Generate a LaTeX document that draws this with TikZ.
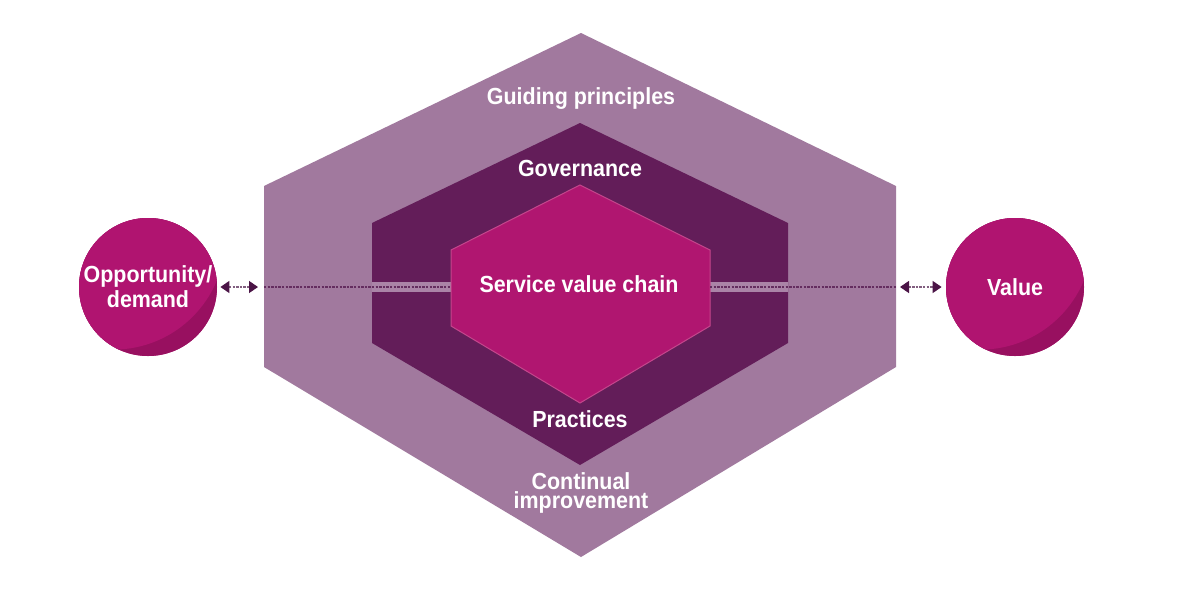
\documentclass[tikz,border=0pt]{standalone}
\usepackage{fontspec}
\newfontfamily\labfont[FakeStretch=0.92]{Liberation Sans}
\usetikzlibrary{arrows.meta}
\definecolor{outerc}{RGB}{161,121,158}
\definecolor{govc}{RGB}{99,29,89}
\definecolor{bandc}{RGB}{170,132,167}
\definecolor{svcc}{RGB}{176,22,112}
\definecolor{svcedge}{RGB}{196,70,140}
\definecolor{circc}{RGB}{176,20,112}
\definecolor{circdark}{RGB}{152,16,96}
\definecolor{chainc}{RGB}{100,45,95}
\definecolor{linkc}{RGB}{130,95,128}
\definecolor{tipc}{RGB}{75,20,70}
\begin{document}
\begin{tikzpicture}[x=0.5pt,y=-0.5pt,
  lab/.style={text=white, inner sep=0pt, align=center,
    font=\labfont\bfseries\fontsize{11.65}{9.6}\selectfont},
  ball/.style={circle, minimum size=69pt, inner sep=0pt, fill=circc,
    text=white, align=center,
    font=\labfont\bfseries\fontsize{11.65}{12.5}\selectfont,
    path picture={
      \fill[circdark] (path picture bounding box.center) circle[radius=40pt];
      \fill[circc] ([shift={(-17.3pt,24.7pt)}]path picture bounding box.center) circle[radius=56pt];
    }},
  chain/.style={draw=chainc, line width=0.7pt, dash pattern=on 1.2pt off 0.6pt},
  link/.style={draw=linkc, line width=0.7pt, dash pattern=on 1.2pt off 0.6pt,
    {Triangle[length=4.5pt,width=6pt,color=tipc]}-{Triangle[length=4.5pt,width=6pt,color=tipc]}}
]
\useasboundingbox (0,0) rectangle (1200,590);
\fill[white] (0,0) rectangle (1200,590);

% hexagon layers
\fill[outerc] (581,33) -- (896,186) -- (896,367) -- (581,557) -- (264,367) -- (264,186) -- cycle;
\fill[govc] (580,123) -- (788,223) -- (788,343) -- (580,465) -- (372,343) -- (372,223) -- cycle;
\fill[bandc] (372,281.5) rectangle (788,292);
\filldraw[fill=svcc, draw=svcedge, line width=0.5pt] (580,185) -- (710,250) -- (710,326) -- (580,403) -- (451,326) -- (451,250) -- cycle;

\coordinate (hexL) at (264,287);
\coordinate (hexR) at (896,287);
\coordinate (svcL) at (451,287);
\coordinate (svcR) at (710,287);

% outside circles
\node[ball] (opp) at (148,287) {Opportunity/\\demand};
\node[ball] (val) at (1015,287) {Value};

% connectors
\draw[chain] (hexL) -- (svcL);
\draw[chain] (svcR) -- (hexR);
\draw[link, shorten <=1.5pt, shorten >=3pt] (opp.east) -- (hexL);
\draw[link, shorten <=2pt, shorten >=2pt] (hexR) -- (val.west);

% labels
\node[lab, anchor=base] (gp) at (581,104) {Guiding principles};
\node[lab, anchor=base] (gov) at (580,176) {Governance};
\node[lab, anchor=base] (svc) at (579,292) {Service value chain};
\node[lab, anchor=base] (prac) at (580,427) {Practices};
\node[lab] (ci) at (581,493) {Continual\\improvement};
\end{tikzpicture}
\end{document}
